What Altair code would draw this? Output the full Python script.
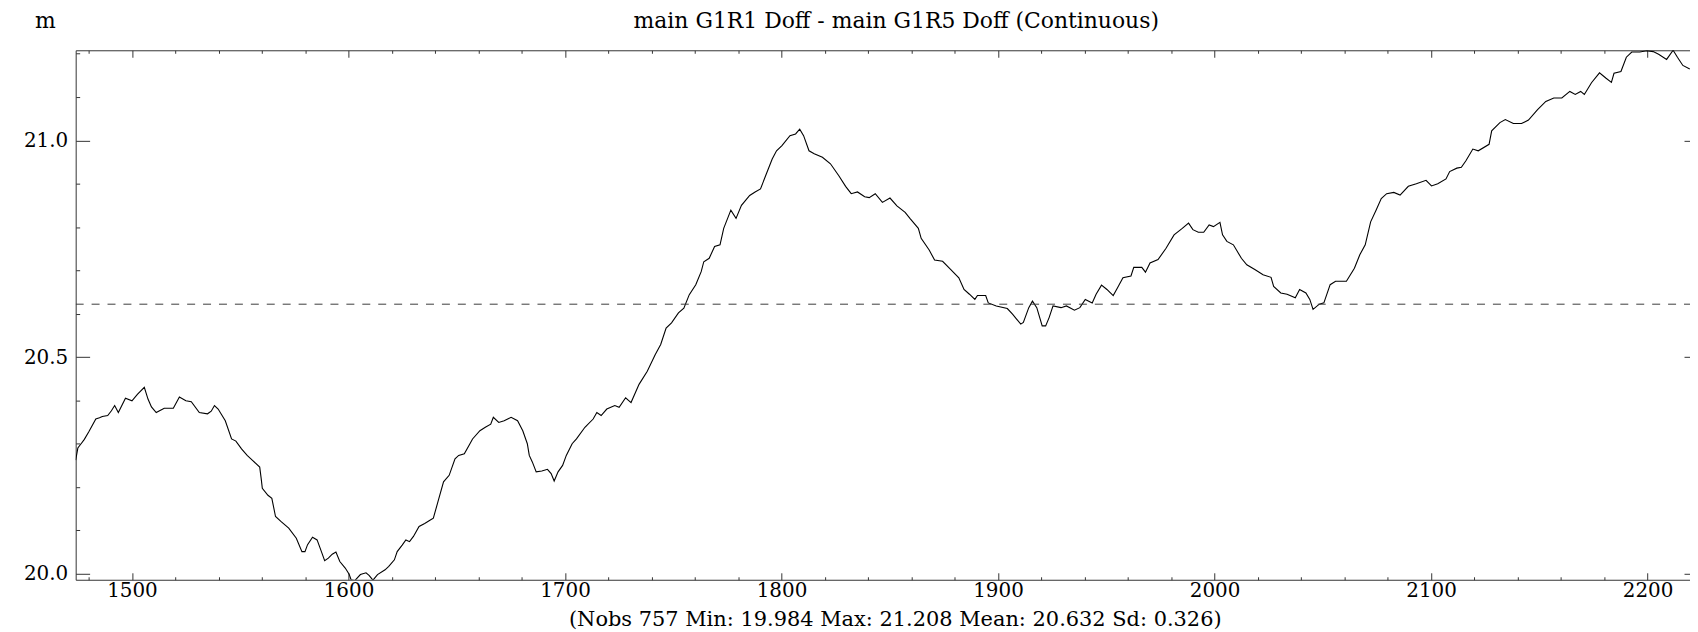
import altair as alt
import pandas as pd

# ---------------- data ----------------
x_obs = [
    1474, 1475, 1476.5, 1478, 1480, 1483.3, 1485, 1486.3, 1488.8, 1490.5,
    1492, 1493.7, 1497, 1500, 1502.5, 1505.7, 1507.4, 1509, 1511.2, 1514.9,
    1519.1, 1521.9, 1524.9, 1527.4, 1531.1, 1534.9, 1536.6, 1538.1, 1539.8, 1543.1,
    1546, 1548, 1550.6, 1553.2, 1555.8, 1559, 1559.7, 1560.2, 1562.8, 1564.6,
    1566.3, 1568.9, 1572.4, 1575.9, 1578.5, 1579.9, 1581.1, 1583.4, 1585.5, 1587.2,
    1589, 1590.7, 1592.5, 1594.2, 1596, 1598.5, 1600.3, 1601.2, 1602.9, 1605.5,
    1608.1, 1609.5, 1611.3, 1613.4, 1616.9, 1618.6, 1621.2, 1622.5, 1624.8, 1626.5,
    1628.2, 1630, 1632.6, 1635.2, 1637.8, 1639.2, 1641.3, 1643.9, 1646.5, 1649.2,
    1650.9, 1653.5, 1656.1, 1657.3, 1660.7, 1663.2, 1665.7, 1666.9, 1669.4, 1671.9,
    1675.1, 1678.1, 1680.5, 1682.6, 1683.5, 1684.9, 1686.7, 1689.3, 1691.9, 1693.6,
    1695, 1696.8, 1698.9, 1700.6, 1703.3, 1705.3, 1709.2, 1713, 1714.7, 1716.7,
    1719.3, 1723, 1725, 1728, 1730.5, 1734.2, 1738, 1741.7, 1744.2, 1746.7,
    1749.2, 1752.4, 1754.9, 1757.4, 1760.4, 1762.9, 1764.1, 1766.6, 1769.1, 1771.6,
    1773.3, 1776.6, 1779, 1781.5, 1785.3, 1787.8, 1790.3, 1792.7, 1795.7, 1797.7,
    1800.2, 1803.9, 1806.5, 1808.4, 1810.2, 1812.7, 1815.1, 1818.9, 1822.6, 1826.4,
    1829.6, 1832.2, 1835.1, 1838.4, 1840.5, 1843.3, 1846.6, 1850.1, 1853.3, 1857.1,
    1859.5, 1863.2, 1864.5, 1868.2, 1870.7, 1874.4, 1878.2, 1881.9, 1884.3, 1886.8,
    1889.3, 1890.5, 1894.3, 1895.5, 1899.2, 1904.3, 1906.7, 1910.5, 1911.7, 1914.2,
    1915.9, 1917.9, 1920.4, 1922, 1923.6, 1925.4, 1929.1, 1931.6, 1935.3, 1937.8,
    1940.3, 1943.5, 1945.3, 1947.8, 1950.3, 1953.2, 1955.2, 1957.7, 1961.4, 1962.7,
    1966.4, 1968.1, 1970.2, 1973.9, 1977.6, 1981.3, 1985.1, 1988, 1990, 1992.5,
    1995, 1997.5, 1999.5, 2002.5, 2003.7, 2005.7, 2008.7, 2012.4, 2014.9, 2018.6,
    2022.4, 2026.1, 2027.3, 2030.6, 2033.5, 2037.3, 2039.3, 2042.2, 2044, 2045.5,
    2048.4, 2050.5, 2053.4, 2055.9, 2060.9, 2064.6, 2067.1, 2069.6, 2072.1, 2074.6,
    2077, 2079.5, 2082.8, 2085.7, 2089.5, 2093.2, 2097.7, 2100.2, 2103.1, 2106.9,
    2108.6, 2111.9, 2114, 2116.1, 2119.3, 2121.8, 2126.8, 2128, 2131.8, 2134.3,
    2138, 2141.8, 2145, 2149.2, 2153, 2156.7, 2160.4, 2164.1, 2166.6, 2169.1,
    2170.8, 2174.1, 2177.8, 2180.7, 2183.3, 2184.5, 2187.7, 2190.2, 2192.7, 2196.4,
    2199.6, 2202.6, 2205.1, 2208.8, 2211.8, 2213.8, 2216.3, 2219.5,
]
y_obs = [
    20.262, 20.290, 20.300, 20.310, 20.327, 20.357, 20.360, 20.363, 20.365, 20.376,
    20.388, 20.372, 20.405, 20.399, 20.414, 20.430, 20.403, 20.385, 20.372, 20.382,
    20.382, 20.408, 20.399, 20.397, 20.372, 20.369, 20.375, 20.388, 20.380, 20.353,
    20.311, 20.306, 20.288, 20.273, 20.261, 20.246, 20.219, 20.197, 20.181, 20.174,
    20.132, 20.120, 20.105, 20.082, 20.051, 20.051, 20.067, 20.084, 20.078, 20.055,
    20.030, 20.036, 20.045, 20.050, 20.028, 20.013, 19.999, 19.986, 19.984, 19.998,
    20.002, 19.996, 19.985, 19.998, 20.009, 20.017, 20.032, 20.051, 20.066, 20.078,
    20.074, 20.086, 20.109, 20.116, 20.124, 20.128, 20.166, 20.212, 20.227, 20.265,
    20.273, 20.277, 20.300, 20.311, 20.330, 20.338, 20.345, 20.361, 20.349, 20.353,
    20.361, 20.353, 20.330, 20.300, 20.273, 20.258, 20.235, 20.237, 20.241, 20.231,
    20.214, 20.235, 20.250, 20.273, 20.300, 20.311, 20.338, 20.357, 20.372, 20.365,
    20.380, 20.388, 20.384, 20.406, 20.395, 20.437, 20.467, 20.506, 20.529, 20.567,
    20.579, 20.602, 20.613, 20.644, 20.667, 20.697, 20.720, 20.728, 20.755, 20.759,
    20.797, 20.839, 20.820, 20.850, 20.873, 20.881, 20.888, 20.919, 20.957, 20.976,
    20.988, 21.011, 21.015, 21.026, 21.011, 20.976, 20.969, 20.961, 20.946, 20.919,
    20.894, 20.877, 20.881, 20.870, 20.868, 20.877, 20.857, 20.867, 20.849, 20.834,
    20.819, 20.797, 20.774, 20.747, 20.724, 20.721, 20.702, 20.683, 20.656, 20.645,
    20.633, 20.642, 20.642, 20.625, 20.618, 20.612, 20.599, 20.576, 20.580, 20.614,
    20.629, 20.614, 20.572, 20.572, 20.591, 20.618, 20.614, 20.618, 20.608, 20.614,
    20.633, 20.625, 20.645, 20.666, 20.656, 20.642, 20.660, 20.683, 20.687, 20.707,
    20.707, 20.696, 20.717, 20.725, 20.751, 20.782, 20.797, 20.809, 20.794, 20.788,
    20.788, 20.805, 20.801, 20.811, 20.782, 20.767, 20.759, 20.728, 20.713, 20.702,
    20.690, 20.684, 20.663, 20.648, 20.645, 20.637, 20.656, 20.648, 20.633, 20.610,
    20.622, 20.625, 20.667, 20.675, 20.675, 20.705, 20.736, 20.759, 20.812, 20.839,
    20.866, 20.877, 20.880, 20.874, 20.894, 20.900, 20.908, 20.895, 20.900, 20.911,
    20.928, 20.936, 20.938, 20.953, 20.980, 20.976, 20.991, 21.022, 21.041, 21.048,
    21.039, 21.039, 21.047, 21.071, 21.090, 21.098, 21.098, 21.113, 21.106, 21.113,
    21.106, 21.133, 21.156, 21.144, 21.134, 21.155, 21.159, 21.192, 21.204, 21.204,
    21.207, 21.205, 21.199, 21.187, 21.208, 21.192, 21.173, 21.165,
]
mean_x = [1474, 2230]
mean_y = [20.622, 20.622]

x_tick_values = [1480, 1500, 1520, 1540, 1560, 1580, 1600, 1620, 1640, 1660, 1680,
                 1700, 1720, 1740, 1760, 1780, 1800, 1820, 1840, 1860, 1880, 1900,
                 1920, 1940, 1960, 1980, 2000, 2020, 2040, 2060, 2080, 2100, 2120,
                 2140, 2160, 2180, 2200]
y_tick_values = [20.0, 20.1, 20.2, 20.3, 20.4, 20.5, 20.6, 20.7, 20.8, 20.9,
                 21.0, 21.1, 21.2]
y_major_values = [20.0, 20.5, 21.0]

title_text = "main G1R1 Doff - main G1R5 Doff (Continuous)"
stats_text = "(Nobs 757 Min: 19.984 Max: 21.208 Mean: 20.632 Sd: 0.326)"
unit_text = "m"

x_domain = [1474, 2219.6]
y_domain = [19.986, 21.208]

# ---------------- chart ----------------
W, H = 1622, 532
FONT = "DejaVu Serif"
AX = "#333333"
TICK_FS = 20
TITLE_FS = 22
STATS_FS = 21

df = pd.DataFrame({"x": x_obs, "y": y_obs})
df_mean = pd.DataFrame({"x": mean_x, "y": mean_y})

xscale = alt.Scale(domain=x_domain, nice=False, zero=False)
yscale = alt.Scale(domain=y_domain, nice=False, zero=False)

x_major_test = "datum.value % 100 === 0"
y_major_test = "abs(datum.value * 2 - round(datum.value * 2)) < 0.001"

# top frame (inward ticks) + bottom labels + stats line
x_axis_top = alt.Axis(
    orient="bottom", offset=-H, values=x_tick_values, grid=False,
    domainColor=AX, domainWidth=1, tickColor=AX, tickWidth=1,
    tickSize={"condition": {"test": x_major_test, "value": 7}, "value": 3},
    format="d", labelExpr=f"{x_major_test} ? datum.label : ''",
    labelPadding=526, labelFont=FONT, labelFontSize=TICK_FS, labelColor="black",
    labelOverlap=False, labelFlush=False,
    title=stats_text, titleX=823, titleY=578, titleAngle=0, titleAlign="center",
    titleBaseline="alphabetic", titleFont=FONT, titleFontSize=STATS_FS,
    titleFontWeight="normal", titleColor="black",
)
# left frame (inward ticks) + left labels + unit
y_axis_left = alt.Axis(
    orient="right", offset=-W, values=y_tick_values, grid=False,
    domainColor=AX, domainWidth=1, tickColor=AX, tickWidth=1,
    tickSize={"condition": {"test": y_major_test, "value": 14}, "value": 4},
    format=".1f", labelExpr=f"{y_major_test} ? datum.label : ''",
    labelAlign="right", labelBaseline="middle", labelPadding=-22,
    labelFont=FONT, labelFontSize=TICK_FS, labelColor="black",
    labelOverlap=False, labelFlush=False,
    title=unit_text, titleX=-31, titleY=-23, titleAngle=0, titleAlign="center",
    titleBaseline="alphabetic", titleFont=FONT, titleFontSize=TITLE_FS,
    titleFontWeight="normal", titleColor="black",
)
# bottom frame (inward ticks) + main title above the plot
x_axis_bottom = alt.Axis(
    orient="top", offset=-H, values=x_tick_values, grid=False, labels=False,
    domainColor=AX, domainWidth=1, tickColor=AX, tickWidth=1,
    tickSize={"condition": {"test": x_major_test, "value": 7}, "value": 3},
    title=title_text, titleX=824, titleY=-(H + 23), titleAngle=0,
    titleAlign="center", titleBaseline="alphabetic", titleFont=FONT,
    titleFontSize=TITLE_FS, titleFontWeight="normal", titleColor="black",
)
# right side ticks
y_axis_right = alt.Axis(
    orient="left", offset=-W, values=y_major_values, grid=False, labels=False,
    domain=False, tickColor=AX, tickWidth=1, tickSize=6, title="",
)

line = alt.Chart(df).mark_line(color="black", strokeWidth=1.1, clip=True).encode(
    x=alt.X("x:Q", scale=xscale, axis=x_axis_top),
    y=alt.Y("y:Q", scale=yscale, axis=y_axis_left),
)
mean_line = alt.Chart(df_mean).mark_line(
    color="#3a3a3a", strokeWidth=1, strokeDash=[8, 8], clip=True
).encode(
    x=alt.X("x:Q", scale=xscale, axis=x_axis_bottom),
    y=alt.Y("y:Q", scale=yscale, axis=y_axis_right),
)

chart = (
    alt.layer(line, mean_line)
    .resolve_axis(x="independent", y="independent")
    .properties(
        width=W, height=H,
        autosize=alt.AutoSizeParams(type="none"),
        padding={"left": 68, "top": 41, "right": 0, "bottom": 51},
        background="white",
    )
    .configure_view(strokeWidth=0)
)

chart.save("out.html", embed_options={"renderer": "svg", "actions": False})
